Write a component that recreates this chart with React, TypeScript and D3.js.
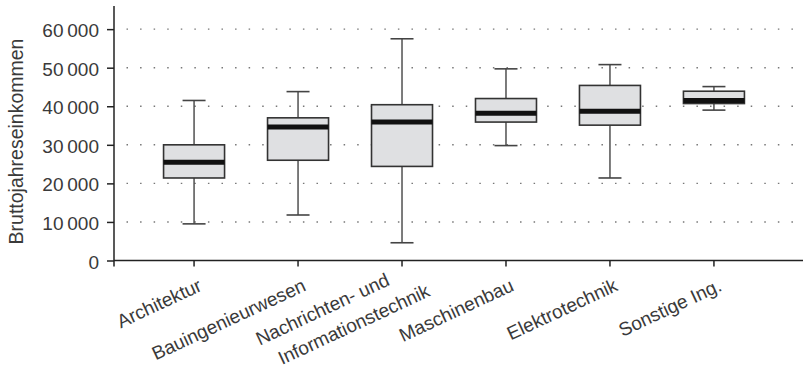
import { useEffect, useRef } from "react";
import * as d3 from "d3";

const categories = [
  "Architektur",
  "Bauingenieurwesen",
  "Nachrichten- und\nInformationstechnik",
  "Maschinenbau",
  "Elektrotechnik",
  "Sonstige Ing.",
];
const whiskerLow = [9500, 11800, 4600, 29800, 21400, 39000];
const q1 = [21400, 26000, 24400, 35900, 35100, 40700];
const median = [25500, 34600, 35900, 38200, 38700, 41500];
const q3 = [30000, 37000, 40400, 42000, 45400, 43900];
const whiskerHigh = [41500, 43800, 57500, 49700, 50800, 45100];
const yTicks = [0, 10000, 20000, 30000, 40000, 50000, 60000];
const yLabel = "Bruttojahreseinkommen";

const width = 803;
const height = 378;
const margin = { top: 6, right: 3, bottom: 117, left: 114 };
const font = "'Liberation Sans', Arial, Helvetica, sans-serif";
const textColor = "#3a3a3a";

const App = () => {
  const svgRef = useRef<SVGSVGElement>(null);

  useEffect(() => {
    const svg = d3.select(svgRef.current);
    svg.selectAll("*").remove();

    const x = d3.scalePoint<string>()
      .domain(categories)
      .range([margin.left, 794])
      .padding(0.77);

    const y = d3.scaleLinear()
      .domain([0, 66000])
      .range([height - margin.bottom - 0.5, margin.top]);

    const locale = d3.formatLocale({ decimal: ",", thousands: "\u2009", grouping: [3], currency: ["", "€"] });
    const fmt = locale.format(",");

    const rows = categories.map((c, i) => ({
      cat: c,
      lo: whiskerLow[i],
      q1: q1[i],
      med: median[i],
      q3: q3[i],
      hi: whiskerHigh[i],
    }));

    // dotted grid
    svg.append("g")
      .selectAll("line")
      .data(yTicks.filter(t => t > 0))
      .join("line")
      .attr("x1", margin.left + 12.5)
      .attr("x2", width - 8)
      .attr("y1", d => y(d))
      .attr("y2", d => y(d))
      .attr("stroke", "#777")
      .attr("stroke-width", 1.4)
      .attr("stroke-dasharray", "1.5 12.07");

    // y axis
    const yAxis = svg.append("g")
      .attr("transform", `translate(${margin.left},0)`)
      .call(d3.axisLeft(y).tickValues(yTicks).tickSize(7).tickPadding(8).tickFormat(d => fmt(d as number)));
    yAxis.select(".domain").remove();
    yAxis.selectAll(".tick line").attr("stroke", "#222").attr("stroke-width", 1.5);
    yAxis.selectAll(".tick text")
      .attr("font-family", font)
      .attr("font-size", 19)
      .attr("fill", textColor)
      .attr("dy", "0.4em");

    svg.append("line")
      .attr("x1", margin.left)
      .attr("x2", margin.left)
      .attr("y1", y(66000))
      .attr("y2", y(0) + 6)
      .attr("stroke", "#222")
      .attr("stroke-width", 1.5);

    // x axis
    svg.append("line")
      .attr("x1", margin.left)
      .attr("x2", width)
      .attr("y1", y(0))
      .attr("y2", y(0))
      .attr("stroke", "#222")
      .attr("stroke-width", 1.5);

    svg.append("g")
      .selectAll("line")
      .data(categories)
      .join("line")
      .attr("x1", d => x(d)!)
      .attr("x2", d => x(d)!)
      .attr("y1", y(0))
      .attr("y2", y(0) + 6)
      .attr("stroke", "#222")
      .attr("stroke-width", 1.5);

    // category labels
    const angle = -25;
    const labels = svg.append("g")
      .selectAll("g")
      .data(categories)
      .join("g")
      .attr("transform", d => `translate(${x(d)! + 9},${y(0) + 29.5}) rotate(${angle})`);

    labels.each(function (d) {
      const lines = d.split("\n");
      const g = d3.select(this);
      lines.forEach((line, i) => {
        const k = i - (lines.length - 1) / 2;
        g.append("text")
          .attr("x", k * 32)
          .attr("y", k * 27)
          .attr("text-anchor", "end")
          .attr("font-family", font)
          .attr("font-size", 19)
          .attr("fill", textColor)
          .text(line);
      });
    });

    // y label
    svg.append("text")
      .attr("transform", `translate(23,141.5) rotate(-90)`)
      .attr("text-anchor", "middle")
      .attr("font-family", font)
      .attr("font-size", 19.5)
      .attr("fill", textColor)
      .text(yLabel);

    // boxes
    const boxW = 61;
    const capW = 23;
    const boxes = svg.append("g")
      .selectAll("g")
      .data(rows)
      .join("g")
      .attr("transform", d => `translate(${x(d.cat)},0)`);

    boxes.append("line")
      .attr("x1", 0).attr("x2", 0)
      .attr("y1", d => y(d.hi))
      .attr("y2", d => y(d.q3))
      .attr("stroke", "#444")
      .attr("stroke-width", 1.4);

    boxes.append("line")
      .attr("x1", 0).attr("x2", 0)
      .attr("y1", d => y(d.q1))
      .attr("y2", d => y(d.lo))
      .attr("stroke", "#444")
      .attr("stroke-width", 1.4);

    boxes.selectAll("line.cap")
      .data(d => [d.lo, d.hi])
      .join("line")
      .attr("class", "cap")
      .attr("x1", -capW / 2)
      .attr("x2", capW / 2)
      .attr("y1", v => y(v))
      .attr("y2", v => y(v))
      .attr("stroke", "#444")
      .attr("stroke-width", 1.6);

    boxes.append("rect")
      .attr("x", -boxW / 2)
      .attr("width", boxW)
      .attr("y", d => y(d.q3))
      .attr("height", d => y(d.q1) - y(d.q3))
      .attr("fill", "#dfe0e2")
      .attr("stroke", "#333")
      .attr("stroke-width", 1.6);

    boxes.append("line")
      .attr("x1", -boxW / 2)
      .attr("x2", boxW / 2)
      .attr("y1", d => y(d.med))
      .attr("y2", d => y(d.med))
      .attr("stroke", "#111")
      .attr("stroke-width", 5);
  }, []);

  return (
    <svg
      ref={svgRef}
      width={width}
      height={height}
      style={{ position: "absolute", left: 0, top: 0, background: "#fff" }}
    ></svg>
  );
};

export default App;
